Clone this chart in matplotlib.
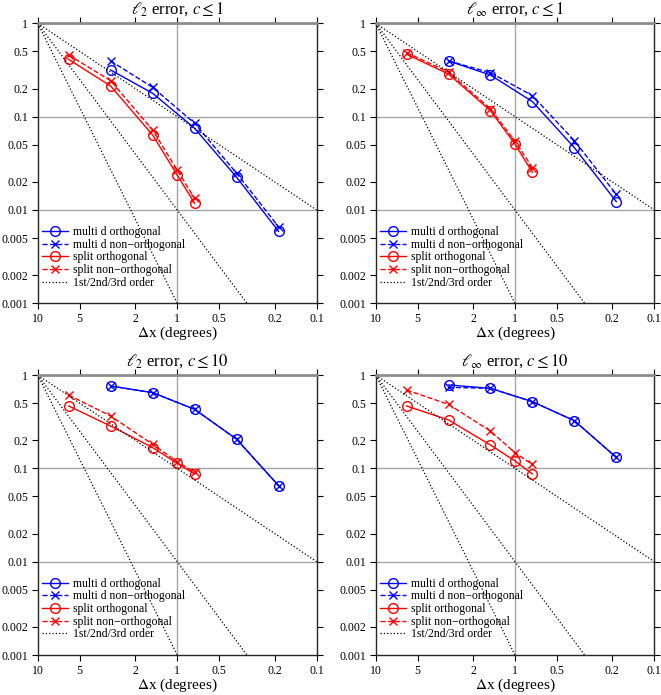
import numpy as np
import matplotlib.pyplot as plt

plt.rcParams['font.family'] = ['Liberation Serif', 'DejaVu Serif']
plt.rcParams['mathtext.fontset'] = 'stix'

### DATA
dx_multi = [3.0, 1.5, 0.75, 0.375, 0.1875]
dx_split = [6.0, 3.0, 1.5, 1.0, 0.75]

titles = [r'$\ell_2$ error, $c \leq 1$', r'$\ell_\infty$ error, $c \leq 1$',
          r'$\ell_2$ error, $c \leq 10$', r'$\ell_\infty$ error, $c \leq 10$']

# errors per panel: multi orth, multi non-orth, split orth, split non-orth
multi_orth = [[0.316, 0.178, 0.075, 0.0224, 0.0059],
              [0.395, 0.279, 0.145, 0.0466, 0.0123],
              [0.762, 0.647, 0.429, 0.205, 0.0652],
              [0.782, 0.720, 0.518, 0.324, 0.131]]
multi_non = [[0.395, 0.206, 0.085, 0.0247, 0.0066],
             [0.395, 0.296, 0.168, 0.0553, 0.0147],
             [0.762, 0.647, 0.429, 0.205, 0.0652],
             [0.738, 0.720, 0.518, 0.324, 0.131]]
split_orth = [[0.411, 0.213, 0.0636, 0.0237, 0.0118],
              [0.466, 0.286, 0.116, 0.0509, 0.0253],
              [0.466, 0.284, 0.167, 0.113, 0.087],
              [0.466, 0.330, 0.178, 0.120, 0.087]]
split_non = [[0.458, 0.243, 0.072, 0.0268, 0.0133],
             [0.485, 0.301, 0.121, 0.0549, 0.0284],
             [0.610, 0.364, 0.181, 0.118, 0.0906],
             [0.690, 0.485, 0.251, 0.147, 0.110]]

ref_dx = [10.0, 0.1]
orders = [1, 2, 3]

xticks = [10, 5, 2, 1, 0.5, 0.2, 0.1]
xticklabels = ['10', '5', '2', '1', '0.5', '0.2', '0.1']
yticks = [1, 0.5, 0.2, 0.1, 0.05, 0.02, 0.01, 0.005, 0.002, 0.001]
yticklabels = ['1', '0.5', '0.2', '0.1', '0.05', '0.02', '0.01', '0.005', '0.002', '0.001']

### FIGURE
W, H = 661, 695
fig = plt.figure(figsize=(W / 100, H / 100), dpi=100)

# axes boxes in pixels (left, top, right, bottom)
boxes = [(37.7, 23.3, 316.7, 303.3), (375.7, 23.3, 654.3, 303.3),
         (37.7, 375.0, 316.7, 655.0), (375.7, 375.0, 654.3, 655.0)]

for i in range(4):
    l, t, r, b = boxes[i]
    ax = fig.add_axes([l / W, 1 - b / H, (r - l) / W, (b - t) / H])
    ax.set_xscale('log')
    ax.set_yscale('log')

    # grid lines at decades
    ax.axvline(1, color='0.65', lw=1.0, zorder=0)
    ax.axhline(0.1, color='0.65', lw=1.0, zorder=0)
    ax.axhline(0.01, color='0.65', lw=1.0, zorder=0)

    ax.plot(dx_multi, multi_orth[i], 'b-', marker='o', mfc='none', ms=7, lw=1.0,
            label='multi d orthogonal')
    ax.plot(dx_multi, multi_non[i], 'b--', marker='x', ms=6, lw=1.0, mew=1.0,
            label='multi d non\u2212orthogonal')
    ax.plot(dx_split, split_orth[i], 'r-', marker='o', mfc='none', ms=7, lw=1.0,
            label='split orthogonal')
    ax.plot(dx_split, split_non[i], 'r--', marker='x', ms=6, lw=1.0, mew=1.0,
            label='split non\u2212orthogonal')

    # reference slopes through (10, 1)
    xr = np.asarray(ref_dx)
    for k, p in enumerate(orders):
        ax.plot(xr, (xr / 10.0)**p, 'k:', lw=0.9,
                label='1st/2nd/3rd order' if k == 0 else None)

    ax.set_xlim(10, 0.1)
    ax.set_ylim(0.001, 1)
    ax.set_xticks(xticks)
    ax.set_xticklabels(xticklabels)
    ax.set_yticks(yticks)
    ax.set_yticklabels(yticklabels)
    ax.minorticks_off()
    ax.tick_params(direction='out', length=4, width=0.8, labelsize=8.5,
                   top=True, right=True, pad=3)
    for s in ax.spines.values():
        s.set_linewidth(1.0)
        s.set_color('0.15')
    ax.spines['top'].set_color('0.55')
    ax.spines['top'].set_linewidth(2.0)

    ax.set_title(titles[i], fontsize=12, pad=7)
    ax.set_xlabel(r'$\Delta$x (degrees)', fontsize=11, labelpad=0)
    ax.legend(loc='lower left', bbox_to_anchor=(0.0, 0.035), frameon=False,
              fontsize=8.5, handlelength=2.2, labelspacing=0.06,
              borderaxespad=0.0, handletextpad=0.35)

plt.savefig('out.png', dpi=100)
